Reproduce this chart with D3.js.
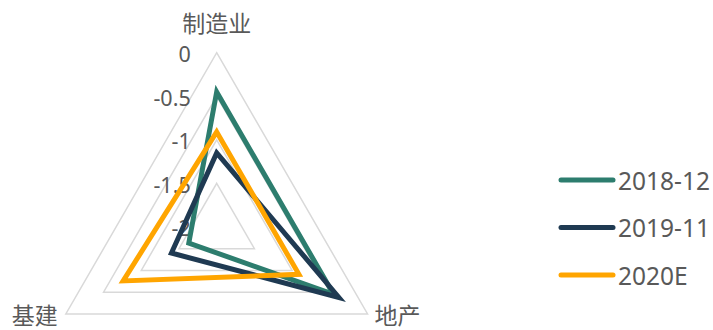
<!DOCTYPE html>
<html><head><meta charset="utf-8">
<script src="https://cdn.jsdelivr.net/npm/d3@7"></script>
<style>body{margin:0;background:#fff}svg{display:block}</style>
</head><body>
<svg id="c" width="713" height="330"></svg>
<script>
const categories = ["制造业", "地产", "基建"];
const seriesNames = ["2018-12", "2019-11", "2020E"];
const s2018 = [-0.45, -0.45, -1.63];
const s2019 = [-1.15, -0.38, -1.40];
const s2020 = [-0.91, -0.91, -0.76];
const tickValues = [0, -0.5, -1, -1.5, -2];
const tickLabels = ["0", "-0.5", "-1", "-1.5", "-2"];
const colors = ["#2D7D6E", "#1F3A52", "#FFA500"];

const series = [s2018, s2019, s2020];
const svg = d3.select("#c");
const cx = 216.7, cy = 226.9, R = 174.2;
const r = d3.scaleLinear().domain([-2, 0]).range([0, R]);
const ang = d3.scalePoint().domain(categories).range([0, 2 * Math.PI * 2 / 3]);
const g = svg.append("g").attr("transform", `translate(${cx},${cy})`);
const txt = "#595959";
const fontCJK = "'Noto Sans CJK SC',sans-serif";
const fontNum = "'Noto Sans','Open Sans',sans-serif";

// grid rings
tickValues.filter(v => v > -2).forEach(v => {
  g.append("path")
    .attr("d", d3.lineRadial().angle(d => ang(d)).radius(() => r(v)).curve(d3.curveLinearClosed)(categories))
    .attr("fill", "none").attr("stroke", "#D9D9D9").attr("stroke-width", 1.5);
});

// tick labels
g.selectAll("text.tick").data(tickValues).join("text")
  .attr("x", -26).attr("y", d => -r(d) + 1)
  .attr("text-anchor", "end").attr("dominant-baseline", "central")
  .attr("fill", txt).style("font-family", fontNum).style("font-size", "21.5px")
  .text((d, i) => tickLabels[i]);

// series
const line = d3.lineRadial().angle((d, i) => ang(categories[i])).radius(d => r(d)).curve(d3.curveLinearClosed);
series.forEach((s, i) => {
  g.append("path").attr("d", line(s)).attr("fill", "none")
    .attr("stroke", colors[i]).attr("stroke-width", 5).attr("stroke-linejoin", "miter");
});

// category labels
const labPos = [
  {x: 0, y: -R - 31, anchor: "middle"},
  {x: R * Math.cos(Math.PI / 6) + 7, y: R / 2, anchor: "start"},
  {x: -R * Math.cos(Math.PI / 6) - 8, y: R / 2, anchor: "end"}
];
categories.forEach((c, i) => {
  g.append("text").attr("x", labPos[i].x).attr("y", labPos[i].y)
    .attr("text-anchor", labPos[i].anchor).attr("dominant-baseline", "central")
    .attr("fill", txt).style("font-family", fontCJK).style("font-size", "23px").text(c);
});

// legend
const ly = d3.scalePoint().domain(seriesNames).range([180, 275]);
seriesNames.forEach((n, i) => {
  svg.append("line").attr("x1", 561).attr("x2", 613).attr("y1", ly(n)).attr("y2", ly(n))
    .attr("stroke", colors[i]).attr("stroke-width", 5).attr("stroke-linecap", "round");
  svg.append("text").attr("x", 618).attr("y", ly(n)).attr("dominant-baseline", "central")
    .attr("fill", txt).style("font-family", fontNum).style("font-size", "24.5px").text(n);
});
</script>
</body></html>
